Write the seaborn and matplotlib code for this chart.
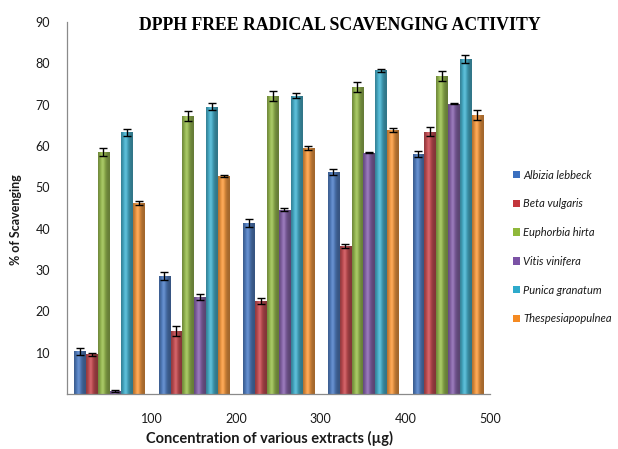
import numpy as np
import pandas as pd
import matplotlib
matplotlib.use("Agg")
import matplotlib.pyplot as plt
import seaborn as sns
from matplotlib.colors import to_rgb

# Extract concentration (µg) and % scavenging for each plant extract
concentrations = [100, 200, 300, 400, 500]
species = ["Albizia lebbeck", "Beta vulgaris", "Euphorbia hirta",
           "Vitis vinifera", "Punica granatum", "Thespesiapopulnea"]

albizia = [10.3, 28.5, 41.4, 53.8, 58.0]
beta = [9.6, 15.2, 22.5, 35.8, 63.5]
euphorbia = [58.5, 67.2, 72.0, 74.2, 77.0]
vitis = [0.7, 23.5, 44.6, 58.4, 70.2]
punica = [63.3, 69.5, 72.2, 78.3, 81.0]
thespesia = [46.3, 52.8, 59.5, 63.8, 67.5]

albizia_err = [0.8, 1.0, 1.0, 0.7, 0.7]
beta_err = [0.4, 1.2, 0.8, 0.5, 1.0]
euphorbia_err = [1.0, 1.2, 1.2, 1.2, 1.2]
vitis_err = [0.2, 0.8, 0.4, 0.1, 0.1]
punica_err = [0.8, 0.8, 0.6, 0.3, 1.0]
thespesia_err = [0.5, 0.2, 0.5, 0.5, 1.2]

colors = ["#3a6fbf", "#c3363c", "#8fb83a", "#7b52a5", "#2eaacb", "#f58a22"]

values = [albizia, beta, euphorbia, vitis, punica, thespesia]
errors = [albizia_err, beta_err, euphorbia_err, vitis_err, punica_err, thespesia_err]

rows = []
for name, vals, errs in zip(species, values, errors):
    for c, v, e in zip(concentrations, vals, errs):
        # each concentration group sits in the middle of its 100 µg interval
        rows.append({"position": c - 50, "extract": name, "scavenging": v, "err": e})
df = pd.DataFrame(rows)

sns.set_theme(style="white")
plt.rcParams["font.family"] = ["Lato", "DejaVu Sans"]

fig = plt.figure(figsize=(6.18, 4.49), dpi=100)
ax = fig.add_axes([67 / 618, 1 - 394 / 449, (490 - 67) / 618, (394 - 22) / 449])

sns.barplot(data=df, x="position", y="scavenging", hue="extract",
            hue_order=species, palette=colors, native_scale=True,
            width=0.84, gap=0.06, errorbar=None, legend=False, ax=ax,
            linewidth=0)

# cylindrical shading on each bar, clipped to the bar rectangle
profile = np.linspace(0, 1, 64)
shade = 0.74 + 0.42 * np.exp(-((profile - 0.38) / 0.28) ** 2)
bars = [p for p in ax.patches]
for patch in bars:
    base = np.array(to_rgb(patch.get_facecolor()))
    img = np.clip(base[None, :] * shade[:, None], 0, 1)
    light = np.clip((profile - 0.25) / 0.25, 0, 1) * np.clip((0.55 - profile) / 0.2, 0, 1)
    img = img + (1 - img) * 0.25 * light[:, None]
    img = img[None, :, :]
    x0, y0 = patch.get_x(), patch.get_y()
    w, h = patch.get_width(), patch.get_height()
    im = ax.imshow(img, extent=[x0, x0 + w, y0, y0 + h], aspect="auto",
                   interpolation="bicubic", zorder=patch.get_zorder() + 0.1)
    im.set_clip_path(patch)

# error bars at the centre of each drawn bar
for i, name in enumerate(species):
    group = bars[i * len(concentrations):(i + 1) * len(concentrations)]
    xs = [p.get_x() + p.get_width() / 2 for p in group]
    ys = [p.get_height() for p in group]
    ax.errorbar(xs, ys, yerr=errors[i], fmt="none", ecolor="black",
                elinewidth=1.0, capsize=3, capthick=1.0, zorder=5)

ax.set_xlim(0, 500)
ax.set_ylim(0, 90)
ax.set_xticks([0] + concentrations)
ax.set_xticklabels([""] + [str(c) for c in concentrations])
ax.set_yticks([0, 10, 20, 30, 40, 50, 60, 70, 80, 90])
ax.set_yticklabels([""] + [str(v) for v in range(10, 100, 10)])

for side in ["top", "right"]:
    ax.spines[side].set_visible(False)
for side in ["left", "bottom"]:
    ax.spines[side].set_color("#8a8a8a")
    ax.spines[side].set_linewidth(0.9)
ax.tick_params(axis="both", which="major", direction="out", length=4,
               width=0.9, color="#8a8a8a", labelsize=9, labelcolor="#1a1a1a")
ax.tick_params(axis="x", pad=10)
ax.tick_params(axis="y", pad=8)
ax.set_xlabel("")
ax.set_ylabel("")

fig.text(270 / 618, 1 - 438 / 449, "Concentration of various extracts (µg)",
         ha="center", va="center", fontsize=10.5, fontweight="bold", color="#1a1a1a")
fig.text(16 / 618, 1 - 220 / 449, "% of Scavenging", rotation=90,
         ha="center", va="center", fontsize=9, fontweight="bold", color="#1a1a1a")
fig.text(340 / 618, 1 - 25 / 449, "DPPH FREE RADICAL SCAVENGING ACTIVITY",
         ha="center", va="center", fontsize=12.8, fontweight="bold",
         family=["Liberation Serif", "DejaVu Serif"], color="black")

handles = [plt.Rectangle((0, 0), 1, 1, facecolor=c, edgecolor="none") for c in colors]
leg = fig.legend(handles, species, loc="upper left",
                 bbox_to_anchor=(507 / 618, 1 - 164 / 449), frameon=False,
                 borderpad=0, handlelength=0.65, handleheight=0.65,
                 handletextpad=0.3, labelspacing=1.6,
                 prop={"size": 8, "style": "italic", "family": ["Lato", "DejaVu Sans"]})
for t in leg.get_texts():
    t.set_color("#1a1a1a")

fig.savefig("out.png", dpi=100)
